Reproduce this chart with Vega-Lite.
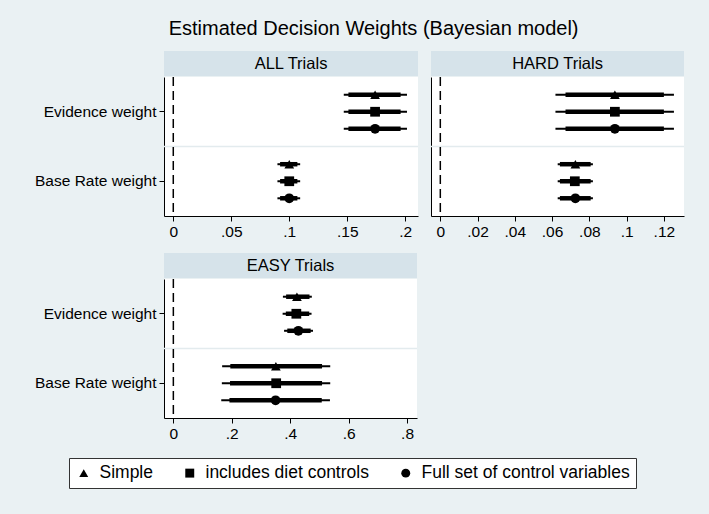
{
  "$schema": "https://vega.github.io/schema/vega-lite/v6.json",
  "background": "#eaf1f3",
  "padding": {"left": 34, "top": 19, "right": 24, "bottom": 27},
  "title": {"text": "Estimated Decision Weights (Bayesian model)", "fontSize": 20, "fontWeight": "normal", "font": "Liberation Sans", "color": "black", "anchor": "middle", "frame": "bounds", "dx": 14, "offset": 12},
  "config": {
    "font": "Liberation Sans",
    "view": {"stroke": null, "fill": "white"},
    "axis": {"domainColor": "black", "tickColor": "black", "labelColor": "black", "grid": false, "labelFontSize": 15.5, "tickSize": 5, "labelPadding": 3, "domainWidth": 1, "tickWidth": 1},
    "legend": {"strokeColor": "#333333", "fillColor": "white", "padding": 6, "labelFontSize": 17.5, "labelColor": "black", "symbolFillColor": "black", "symbolStrokeColor": "black", "symbolSize": 80, "columnPadding": 28, "labelLimit": 0, "cornerRadius": 0, "labelOffset": 7}
  },
  "datasets": {
    "est": [
      {"panel": "ALL", "cat": "Evidence weight", "model": "Simple", "est": 0.174, "lo95": 0.147, "hi95": 0.2015, "lo90": 0.151, "hi90": 0.196},
      {"panel": "ALL", "cat": "Evidence weight", "model": "includes diet controls", "est": 0.174, "lo95": 0.147, "hi95": 0.2015, "lo90": 0.151, "hi90": 0.196},
      {"panel": "ALL", "cat": "Evidence weight", "model": "Full set of control variables", "est": 0.174, "lo95": 0.147, "hi95": 0.2015, "lo90": 0.151, "hi90": 0.196},
      {"panel": "ALL", "cat": "Base Rate weight", "model": "Simple", "est": 0.1, "lo95": 0.0898, "hi95": 0.1094, "lo90": 0.0921, "hi90": 0.107},
      {"panel": "ALL", "cat": "Base Rate weight", "model": "includes diet controls", "est": 0.1, "lo95": 0.0898, "hi95": 0.1094, "lo90": 0.0921, "hi90": 0.107},
      {"panel": "ALL", "cat": "Base Rate weight", "model": "Full set of control variables", "est": 0.1, "lo95": 0.0898, "hi95": 0.1094, "lo90": 0.0921, "hi90": 0.107},
      {"panel": "HARD", "cat": "Evidence weight", "model": "Simple", "est": 0.0937, "lo95": 0.0618, "hi95": 0.1254, "lo90": 0.0672, "hi90": 0.12},
      {"panel": "HARD", "cat": "Evidence weight", "model": "includes diet controls", "est": 0.0937, "lo95": 0.0618, "hi95": 0.1254, "lo90": 0.0672, "hi90": 0.12},
      {"panel": "HARD", "cat": "Evidence weight", "model": "Full set of control variables", "est": 0.0937, "lo95": 0.0618, "hi95": 0.1254, "lo90": 0.0672, "hi90": 0.12},
      {"panel": "HARD", "cat": "Base Rate weight", "model": "Simple", "est": 0.0725, "lo95": 0.063, "hi95": 0.0819, "lo90": 0.0642, "hi90": 0.0807},
      {"panel": "HARD", "cat": "Base Rate weight", "model": "includes diet controls", "est": 0.0722, "lo95": 0.063, "hi95": 0.0819, "lo90": 0.0642, "hi90": 0.0807},
      {"panel": "HARD", "cat": "Base Rate weight", "model": "Full set of control variables", "est": 0.0725, "lo95": 0.063, "hi95": 0.0819, "lo90": 0.0642, "hi90": 0.0807},
      {"panel": "EASY", "cat": "Evidence weight", "model": "Simple", "est": 0.423, "lo95": 0.375, "hi95": 0.474, "lo90": 0.386, "hi90": 0.466},
      {"panel": "EASY", "cat": "Evidence weight", "model": "includes diet controls", "est": 0.421, "lo95": 0.374, "hi95": 0.473, "lo90": 0.385, "hi90": 0.465},
      {"panel": "EASY", "cat": "Evidence weight", "model": "Full set of control variables", "est": 0.428, "lo95": 0.379, "hi95": 0.478, "lo90": 0.39, "hi90": 0.47},
      {"panel": "EASY", "cat": "Base Rate weight", "model": "Simple", "est": 0.351, "lo95": 0.167, "hi95": 0.537, "lo90": 0.195, "hi90": 0.509},
      {"panel": "EASY", "cat": "Base Rate weight", "model": "includes diet controls", "est": 0.352, "lo95": 0.166, "hi95": 0.537, "lo90": 0.194, "hi90": 0.509},
      {"panel": "EASY", "cat": "Base Rate weight", "model": "Full set of control variables", "est": 0.35, "lo95": 0.164, "hi95": 0.536, "lo90": 0.192, "hi90": 0.508}
    ],
    "heads": [
      {"panel": "ALL", "label": "ALL Trials"},
      {"panel": "HARD", "label": "HARD Trials"},
      {"panel": "EASY", "label": "EASY Trials"}
    ],
    "sep": [{"cat": "Base Rate weight"}],
    "zero": [{"zero": 0}]
  },
  "spacing": 13,
  "vconcat": [
    {
      "spacing": 11,
      "hconcat": [
        {
          "spacing": 0,
          "vconcat": [
            {"width": 254, "height": 25, "view": {"fill": "#d6e3ea", "stroke": null},
             "data": {"name": "heads"}, "transform": [{"filter": "datum.panel == 'ALL'"}],
             "mark": {"type": "text", "fontSize": 16.5, "color": "black"},
             "encoding": {"text": {"field": "label", "type": "nominal"}}},
            {"width": 254, "height": 139,
             "layer": [
               {"data": {"name": "sep"}, "mark": {"type": "rule", "color": "#e3ebee", "strokeWidth": 1.5},
                "encoding": {"y": {"field": "cat", "type": "nominal", "bandPosition": 0, "scale": {"domain": ["Evidence weight", "Base Rate weight"], "paddingInner": 0, "paddingOuter": 0}, "axis": {"title": null}}}},
               {"data": {"name": "zero"}, "mark": {"type": "rule", "color": "black", "strokeDash": [9, 5], "strokeWidth": 1.5},
                "encoding": {"x": {"field": "zero", "type": "quantitative", "scale": {"domain": [-0.008, 0.211], "nice": false, "zero": false}, "axis": {"title": null, "values": [0, 0.05, 0.1, 0.15, 0.2], "labelExpr": "replace(format(datum.value, '~g'), '0.', '.')"}}}},
               {"data": {"name": "est"}, "transform": [{"filter": "datum.panel == 'ALL'"}],
                "mark": {"type": "rule", "color": "black", "strokeWidth": 2},
                "encoding": {
                  "x": {"field": "lo95", "type": "quantitative", "scale": {"domain": [-0.008, 0.211], "nice": false, "zero": false}, "axis": {"title": null, "values": [0, 0.05, 0.1, 0.15, 0.2], "labelExpr": "replace(format(datum.value, '~g'), '0.', '.')"}},
                  "x2": {"field": "hi95"},
                  "y": {"field": "cat", "type": "nominal", "scale": {"domain": ["Evidence weight", "Base Rate weight"], "paddingInner": 0, "paddingOuter": 0}, "axis": {"title": null}},
                  "yOffset": {"field": "model", "type": "nominal", "scale": {"domain": ["Simple", "includes diet controls", "Full set of control variables"], "paddingInner": 0, "paddingOuter": 0.54}}}},
               {"data": {"name": "est"}, "transform": [{"filter": "datum.panel == 'ALL'"}],
                "mark": {"type": "rule", "color": "black", "strokeWidth": 4.5},
                "encoding": {
                  "x": {"field": "lo90", "type": "quantitative", "scale": {"domain": [-0.008, 0.211], "nice": false, "zero": false}, "axis": {"title": null, "values": [0, 0.05, 0.1, 0.15, 0.2], "labelExpr": "replace(format(datum.value, '~g'), '0.', '.')"}},
                  "x2": {"field": "hi90"},
                  "y": {"field": "cat", "type": "nominal", "scale": {"domain": ["Evidence weight", "Base Rate weight"], "paddingInner": 0, "paddingOuter": 0}, "axis": {"title": null}},
                  "yOffset": {"field": "model", "type": "nominal", "scale": {"domain": ["Simple", "includes diet controls", "Full set of control variables"], "paddingInner": 0, "paddingOuter": 0.54}}}},
               {"data": {"name": "est"}, "transform": [{"filter": "datum.panel == 'ALL'"}],
                "mark": {"type": "point", "filled": true, "color": "black", "opacity": 1, "size": 95},
                "encoding": {
                  "x": {"field": "est", "type": "quantitative", "scale": {"domain": [-0.008, 0.211], "nice": false, "zero": false}, "axis": {"title": null, "values": [0, 0.05, 0.1, 0.15, 0.2], "labelExpr": "replace(format(datum.value, '~g'), '0.', '.')"}},
                  "y": {"field": "cat", "type": "nominal", "scale": {"domain": ["Evidence weight", "Base Rate weight"], "paddingInner": 0, "paddingOuter": 0}, "axis": {"title": null}},
                  "yOffset": {"field": "model", "type": "nominal", "scale": {"domain": ["Simple", "includes diet controls", "Full set of control variables"], "paddingInner": 0, "paddingOuter": 0.54}},
                  "shape": {"field": "model", "type": "nominal", "scale": {"domain": ["Simple", "includes diet controls", "Full set of control variables"], "range": ["triangle-up", "square", "circle"]}, "legend": {"title": null, "orient": "none", "legendX": -95, "legendY": 407, "direction": "horizontal"}}}}
             ]}
          ]
        },
        {
          "spacing": 0,
          "vconcat": [
            {"width": 253, "height": 25, "view": {"fill": "#d6e3ea", "stroke": null},
             "data": {"name": "heads"}, "transform": [{"filter": "datum.panel == 'HARD'"}],
             "mark": {"type": "text", "fontSize": 16.5, "color": "black"},
             "encoding": {"text": {"field": "label", "type": "nominal"}}},
            {"width": 253, "height": 139,
             "layer": [
               {"data": {"name": "sep"}, "mark": {"type": "rule", "color": "#e3ebee", "strokeWidth": 1.5},
                "encoding": {"y": {"field": "cat", "type": "nominal", "bandPosition": 0, "scale": {"domain": ["Evidence weight", "Base Rate weight"], "paddingInner": 0, "paddingOuter": 0}, "axis": {"title": null, "labels": false, "ticks": false}}}},
               {"data": {"name": "zero"}, "mark": {"type": "rule", "color": "black", "strokeDash": [9, 5], "strokeWidth": 1.5},
                "encoding": {"x": {"field": "zero", "type": "quantitative", "scale": {"domain": [-0.005, 0.1308], "nice": false, "zero": false}, "axis": {"title": null, "values": [0, 0.02, 0.04, 0.06, 0.08, 0.1, 0.12], "labelExpr": "replace(format(datum.value, '~g'), '0.', '.')"}}}},
               {"data": {"name": "est"}, "transform": [{"filter": "datum.panel == 'HARD'"}],
                "mark": {"type": "rule", "color": "black", "strokeWidth": 2},
                "encoding": {
                  "x": {"field": "lo95", "type": "quantitative", "scale": {"domain": [-0.005, 0.1308], "nice": false, "zero": false}, "axis": {"title": null, "values": [0, 0.02, 0.04, 0.06, 0.08, 0.1, 0.12], "labelExpr": "replace(format(datum.value, '~g'), '0.', '.')"}},
                  "x2": {"field": "hi95"},
                  "y": {"field": "cat", "type": "nominal", "scale": {"domain": ["Evidence weight", "Base Rate weight"], "paddingInner": 0, "paddingOuter": 0}, "axis": {"title": null, "labels": false, "ticks": false}},
                  "yOffset": {"field": "model", "type": "nominal", "scale": {"domain": ["Simple", "includes diet controls", "Full set of control variables"], "paddingInner": 0, "paddingOuter": 0.54}}}},
               {"data": {"name": "est"}, "transform": [{"filter": "datum.panel == 'HARD'"}],
                "mark": {"type": "rule", "color": "black", "strokeWidth": 4.5},
                "encoding": {
                  "x": {"field": "lo90", "type": "quantitative", "scale": {"domain": [-0.005, 0.1308], "nice": false, "zero": false}, "axis": {"title": null, "values": [0, 0.02, 0.04, 0.06, 0.08, 0.1, 0.12], "labelExpr": "replace(format(datum.value, '~g'), '0.', '.')"}},
                  "x2": {"field": "hi90"},
                  "y": {"field": "cat", "type": "nominal", "scale": {"domain": ["Evidence weight", "Base Rate weight"], "paddingInner": 0, "paddingOuter": 0}, "axis": {"title": null, "labels": false, "ticks": false}},
                  "yOffset": {"field": "model", "type": "nominal", "scale": {"domain": ["Simple", "includes diet controls", "Full set of control variables"], "paddingInner": 0, "paddingOuter": 0.54}}}},
               {"data": {"name": "est"}, "transform": [{"filter": "datum.panel == 'HARD'"}],
                "mark": {"type": "point", "filled": true, "color": "black", "opacity": 1, "size": 95},
                "encoding": {
                  "x": {"field": "est", "type": "quantitative", "scale": {"domain": [-0.005, 0.1308], "nice": false, "zero": false}, "axis": {"title": null, "values": [0, 0.02, 0.04, 0.06, 0.08, 0.1, 0.12], "labelExpr": "replace(format(datum.value, '~g'), '0.', '.')"}},
                  "y": {"field": "cat", "type": "nominal", "scale": {"domain": ["Evidence weight", "Base Rate weight"], "paddingInner": 0, "paddingOuter": 0}, "axis": {"title": null, "labels": false, "ticks": false}},
                  "yOffset": {"field": "model", "type": "nominal", "scale": {"domain": ["Simple", "includes diet controls", "Full set of control variables"], "paddingInner": 0, "paddingOuter": 0.54}},
                  "shape": {"field": "model", "type": "nominal", "scale": {"domain": ["Simple", "includes diet controls", "Full set of control variables"], "range": ["triangle-up", "square", "circle"]}, "legend": {"title": null, "orient": "none", "legendX": -95, "legendY": 407, "direction": "horizontal"}}}}
             ]}
          ]
        }
      ]
    },
    {
      "hconcat": [
        {
          "spacing": 0,
          "vconcat": [
            {"width": 253, "height": 25, "view": {"fill": "#d6e3ea", "stroke": null},
             "data": {"name": "heads"}, "transform": [{"filter": "datum.panel == 'EASY'"}],
             "mark": {"type": "text", "fontSize": 16.5, "color": "black"},
             "encoding": {"text": {"field": "label", "type": "nominal"}}},
            {"width": 253, "height": 139,
             "layer": [
               {"data": {"name": "sep"}, "mark": {"type": "rule", "color": "#e3ebee", "strokeWidth": 1.5},
                "encoding": {"y": {"field": "cat", "type": "nominal", "bandPosition": 0, "scale": {"domain": ["Evidence weight", "Base Rate weight"], "paddingInner": 0, "paddingOuter": 0}, "axis": {"title": null}}}},
               {"data": {"name": "zero"}, "mark": {"type": "rule", "color": "black", "strokeDash": [9, 5], "strokeWidth": 1.5},
                "encoding": {"x": {"field": "zero", "type": "quantitative", "scale": {"domain": [-0.032, 0.834], "nice": false, "zero": false}, "axis": {"title": null, "values": [0, 0.2, 0.4, 0.6, 0.8], "labelExpr": "replace(format(datum.value, '~g'), '0.', '.')"}}}},
               {"data": {"name": "est"}, "transform": [{"filter": "datum.panel == 'EASY'"}],
                "mark": {"type": "rule", "color": "black", "strokeWidth": 2},
                "encoding": {
                  "x": {"field": "lo95", "type": "quantitative", "scale": {"domain": [-0.032, 0.834], "nice": false, "zero": false}, "axis": {"title": null, "values": [0, 0.2, 0.4, 0.6, 0.8], "labelExpr": "replace(format(datum.value, '~g'), '0.', '.')"}},
                  "x2": {"field": "hi95"},
                  "y": {"field": "cat", "type": "nominal", "scale": {"domain": ["Evidence weight", "Base Rate weight"], "paddingInner": 0, "paddingOuter": 0}, "axis": {"title": null}},
                  "yOffset": {"field": "model", "type": "nominal", "scale": {"domain": ["Simple", "includes diet controls", "Full set of control variables"], "paddingInner": 0, "paddingOuter": 0.54}}}},
               {"data": {"name": "est"}, "transform": [{"filter": "datum.panel == 'EASY'"}],
                "mark": {"type": "rule", "color": "black", "strokeWidth": 4.5},
                "encoding": {
                  "x": {"field": "lo90", "type": "quantitative", "scale": {"domain": [-0.032, 0.834], "nice": false, "zero": false}, "axis": {"title": null, "values": [0, 0.2, 0.4, 0.6, 0.8], "labelExpr": "replace(format(datum.value, '~g'), '0.', '.')"}},
                  "x2": {"field": "hi90"},
                  "y": {"field": "cat", "type": "nominal", "scale": {"domain": ["Evidence weight", "Base Rate weight"], "paddingInner": 0, "paddingOuter": 0}, "axis": {"title": null}},
                  "yOffset": {"field": "model", "type": "nominal", "scale": {"domain": ["Simple", "includes diet controls", "Full set of control variables"], "paddingInner": 0, "paddingOuter": 0.54}}}},
               {"data": {"name": "est"}, "transform": [{"filter": "datum.panel == 'EASY'"}],
                "mark": {"type": "point", "filled": true, "color": "black", "opacity": 1, "size": 95},
                "encoding": {
                  "x": {"field": "est", "type": "quantitative", "scale": {"domain": [-0.032, 0.834], "nice": false, "zero": false}, "axis": {"title": null, "values": [0, 0.2, 0.4, 0.6, 0.8], "labelExpr": "replace(format(datum.value, '~g'), '0.', '.')"}},
                  "y": {"field": "cat", "type": "nominal", "scale": {"domain": ["Evidence weight", "Base Rate weight"], "paddingInner": 0, "paddingOuter": 0}, "axis": {"title": null}},
                  "yOffset": {"field": "model", "type": "nominal", "scale": {"domain": ["Simple", "includes diet controls", "Full set of control variables"], "paddingInner": 0, "paddingOuter": 0.54}},
                  "shape": {"field": "model", "type": "nominal", "scale": {"domain": ["Simple", "includes diet controls", "Full set of control variables"], "range": ["triangle-up", "square", "circle"]}, "legend": {"title": null, "orient": "none", "legendX": -95, "legendY": 407, "direction": "horizontal"}}}}
             ]}
          ]
        }
      ]
    }
  ]
}
